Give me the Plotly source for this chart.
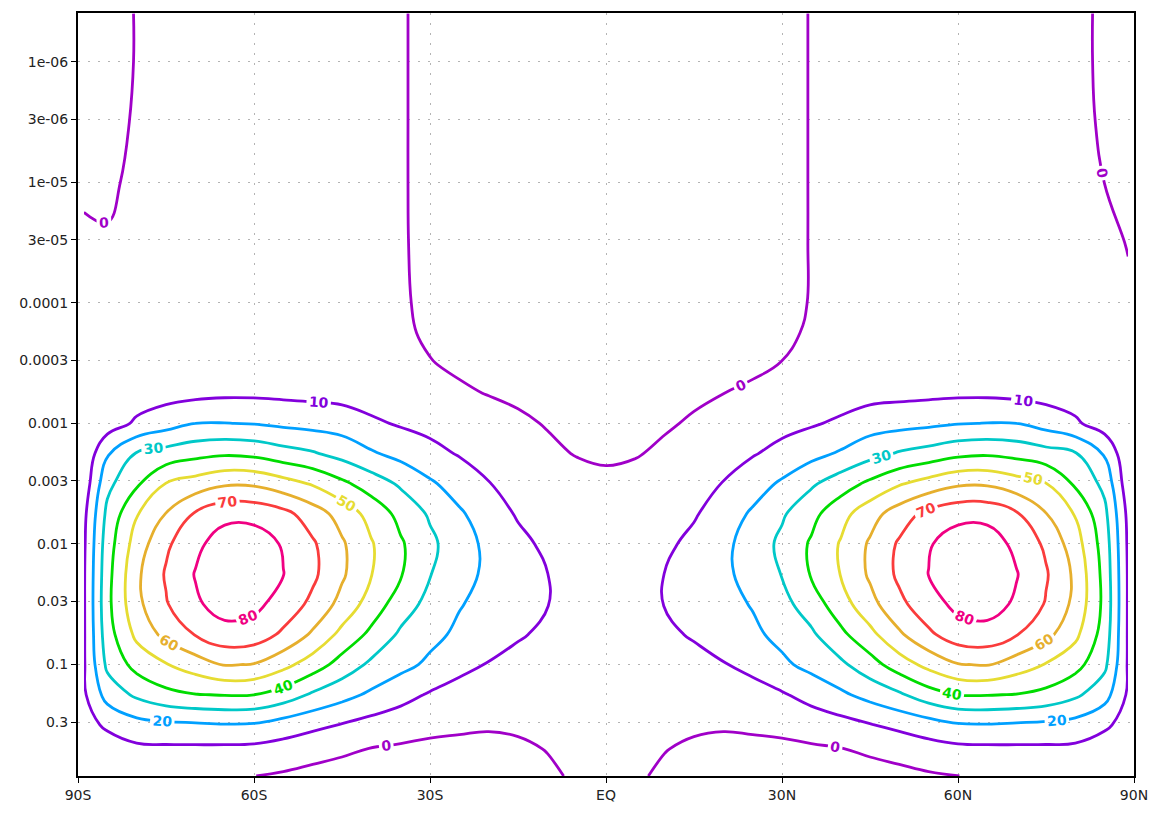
import plotly.graph_objects as go

# Grid columns: latitude in degrees (south negative)
lats = [-89, -85, -80, -75, -70, -65, -60, -55, -50, -45, -40, -35, -30, -25, -20, -15, -10, -5,
        0, 5, 10, 15, 20, 25, 30, 35, 40, 45, 50, 55, 60, 65, 70, 75, 80, 85, 89]

# Grid rows: pressure levels (top of the domain first)
pressure = [3.98e-7, 1.0e-6, 3.16e-6, 1.0e-5, 3.16e-5, 1.0e-4, 1.78e-4, 3.16e-4, 5.62e-4, 1.0e-3,
            1.78e-3, 3.16e-3, 5.62e-3, 1.0e-2, 1.78e-2, 3.16e-2, 5.62e-2, 0.1, 0.178, 0.316, 0.5, 0.839]

# Zonal-mean wind on each pressure row, from 89S to 89N
u_p00 = [-3, -2.5, 0.3, 2, 3, 3.5, 3.5, 3, 2.5, 2, 1.2, 0.5, -1.5, -2.5, -3, -3.5, -3.5, -3.5, -3.5,
         -3.5, -3.5, -3.5, -3, -2.5, -1.5, 0.2, 1.2, 2, 2.5, 3, 3.5, 3.5, 3, 2.2, 1.5, -1.05, -3]
u_p01 = [-3, -2.5, 0.3, 2, 3, 3.5, 3.5, 3, 2.5, 2, 1.2, 0.5, -1.5, -2.5, -3, -3.5, -3.5, -3.5, -3.5,
         -3.5, -3.5, -3.5, -3, -2.5, -1.5, 0.2, 1.2, 2, 2.5, 3, 3.5, 3.5, 3, 2.2, 1.5, -1.05, -3]
u_p02 = [-2, -1.5, 0.5, 2.2, 3.2, 3.6, 3.6, 3.3, 2.8, 2.2, 1.3, 0.5, -1.5, -2.6, -3.2, -3.7, -3.8, -3.8, -3.8,
         -3.8, -3.8, -3.7, -3.2, -2.6, -1.5, 0.2, 1.3, 2.2, 2.8, 3.3, 3.6, 3.6, 3.2, 2.4, 1.6, -0.75, -2.5]
u_p03 = [-1, -1.2, 1.5, 2.8, 3.5, 4, 4, 3.8, 3.3, 2.6, 1.6, 0.5, -1.5, -2.7, -3.4, -4, -4.1, -4.2, -4.2,
         -4.2, -4.1, -4, -3.4, -2.7, -1.5, 0.2, 1.6, 2.6, 3.3, 3.8, 4, 4, 3.5, 2.9, 2.5, -0.05, -1.5]
u_p04 = [1, 0.6, 2.5, 3.5, 4.2, 4.7, 4.7, 4.3, 3.8, 3, 1.9, 0.55, -1.5, -2.7, -3.5, -4, -4.2, -4.3, -4.3,
         -4.3, -4.2, -4, -3.5, -2.7, -1.5, 0.2, 1.9, 3, 3.8, 4.3, 4.7, 4.7, 4.2, 3.5, 3, 1.7, -0.3]
u_p05 = [1, 1.5, 3, 4.3, 5, 5.5, 5.5, 5, 4.5, 3.5, 2.3, 0.85, -1.5, -2.8, -3.8, -4.5, -4.8, -5, -5,
         -5, -4.8, -4.5, -3.8, -2.8, -1.5, 0.25, 2.3, 3.5, 4.5, 5, 5.5, 5.5, 5, 4.3, 3.5, 2, 1]
u_p06 = [1.1, 1.9, 3.5, 4.9, 5.7, 6.2, 6.2, 5.8, 5.2, 4.2, 2.9, 1.3, -1.1, -2.1, -3.1, -3.9, -4.3, -4.5, -4.5,
         -4.5, -4.3, -3.9, -3.1, -2.1, -1.1, 0.7, 2.9, 4.2, 5.2, 5.8, 6.2, 6.2, 5.7, 4.9, 3.7, 2.1, 1.1]
u_p07 = [1.2, 2.3, 4, 5.5, 6.5, 7, 7, 6.6, 6, 5, 3.6, 2, 0.3, -1.3, -2.4, -3.3, -3.8, -4, -4,
         -4, -3.8, -3.3, -2.4, -1.3, 0.1, 2, 3.6, 5, 6, 6.6, 7, 7, 6.5, 5.5, 4, 2.3, 1.2]
u_p08 = [1.5, 3, 5.2, 6.3, 7.3, 8.2, 8.2, 7.8, 7.3, 6.6, 5.5, 4, 2.6, 1.1, -0.3, -1.5, -2.4, -3, -3.2,
         -3, -2.4, -1.5, -0.05, 1.1, 2.6, 4, 5.5, 6.6, 7.3, 7.8, 8.2, 8.2, 7.3, 6.3, 5.2, 3, 1.5]
u_p09 = [2, 5, 11.5, 16, 20, 20.2, 19.6, 17.9, 16.7, 15.4, 11.6, 9, 7.1, 5.2, 3.3, 1.4, -0.5, -2, -2.5,
         -2, -1, 1, 3.3, 5.2, 7.1, 9, 11.6, 15.4, 16.7, 17.9, 19.6, 20.2, 20, 16, 11.5, 5, 2]
u_p10 = [2, 19, 30.8, 33.9, 36.9, 38.7, 37.5, 34, 31, 26.6, 21.2, 16.9, 12.9, 9.3, 6.7, 4.2, 1.6, -0.4, -1,
         -0.6, 1.6, 4.2, 6.7, 9.3, 12.9, 16.9, 21.2, 26.6, 31, 34, 37.5, 38.7, 36.9, 33.9, 30.8, 19, 2]
u_p11 = [4, 27.4, 38.5, 50.3, 54.4, 58.7, 58.5, 54, 49, 42.1, 35.3, 28.5, 21.4, 15.7, 10.3, 7, 5, 3, 1.5,
         3, 5, 7, 10.3, 15.7, 21.4, 28.5, 35.3, 42.1, 49, 54, 58.5, 58.7, 54.4, 50.3, 38.5, 27.4, 4]
u_p12 = [7.5, 32.5, 49.3, 60.3, 71, 77, 77, 73, 65, 56, 46.5, 37, 28.7, 21.3, 15, 9, 6.5, 5, 3.5,
         5, 6.5, 9, 15, 21.3, 28.7, 37, 46.5, 56, 65, 73, 77, 77, 71, 60.3, 49.3, 32.5, 7.5]
u_p13 = [8.5, 35.3, 54.6, 68.2, 77.6, 85, 85, 79.1, 71.3, 61.3, 50.8, 41.2, 32.2, 24.2, 17.7, 12.6, 8, 6, 4.5,
         6, 8, 12.6, 17.7, 24.2, 32.2, 41.2, 50.8, 61.3, 71.3, 79.1, 85, 85, 77.6, 68.2, 54.6, 35.3, 8.5]
u_p14 = [9, 36.6, 58, 71, 80.5, 86, 86, 80.2, 72, 61.5, 50.3, 40.8, 30.4, 23.5, 18, 14, 10.1, 7, 5.5,
         7, 10.1, 14, 18, 23.5, 30.4, 40.8, 50.3, 61.5, 72, 80.2, 86, 86, 80.5, 71, 58, 36.6, 9]
u_p15 = [9, 37.3, 57.4, 69.2, 78.5, 84, 82.5, 76, 67.6, 56.7, 45.6, 34.9, 26.9, 20.6, 16.9, 13.4, 10.2, 7, 5,
         7, 10.2, 13.4, 16.9, 20.6, 26.9, 34.9, 45.6, 56.7, 67.6, 76, 82.5, 84, 78.5, 69.2, 57.4, 37.3, 9]
u_p16 = [9, 35.7, 52.3, 63, 70.5, 76.5, 75.5, 68.2, 58.5, 47.2, 37.7, 28.4, 22.7, 18.1, 14.5, 10.8, 8.5, 6.5, 5,
         6.5, 8.5, 10.8, 14.5, 18.1, 22.7, 28.4, 37.7, 47.2, 58.5, 68.2, 75.5, 76.5, 70.5, 63, 52.3, 35.7, 9]
u_p17 = [9, 32.2, 43.5, 49.4, 55, 60.6, 59.5, 53, 45.1, 36, 28, 22.9, 18.1, 13.7, 9.4, 7.5, 6.5, 5.5, 5,
         5.5, 6.5, 7.5, 9.4, 13.7, 18.1, 22.9, 28, 36, 45.1, 53, 59.5, 60.6, 55, 49.4, 43.5, 32.2, 9]
u_p18 = [8.5, 23.9, 31.8, 37.2, 39.6, 40.4, 40, 35.6, 28.5, 23.3, 18.2, 13.4, 9, 4.8, 4.3, 4.5, 4.8, 4.8, 4.8,
         4.8, 4.8, 4.5, 4.3, 4.8, 9, 13.4, 18.2, 23.3, 28.5, 35.6, 40, 40.4, 39.6, 37.2, 31.8, 23.9, 8.5]
u_p19 = [7, 11.4, 16.4, 17.7, 18.6, 19.5, 19, 15.5, 12.5, 9.5, 6.4, 4.4, 2.8, 1.8, 1.1, 1.4, 2.5, 3.5, 4.2,
         3.5, 2.5, 1.4, 1.1, 1.8, 2.8, 4.4, 6.4, 9.5, 12.5, 15.5, 19, 19.5, 18.6, 17.7, 16.4, 11.4, 7]
u_p20 = [4, 6, 8, 8.3, 8.2, 8, 7.6, 6.1, 3.3, 1.5, -0.3, -1.2, -2.3, -2.6, -2.8, -1.45, 0.3, 2.5, 3.5,
         2.5, 0.3, -1.45, -2.8, -2.6, -2.3, -1.2, -0.3, 1.5, 3.3, 6.1, 7.6, 8, 8.2, 8.3, 8, 6, 4]
u_p21 = [2, 3, 4, 4, 3.5, 2, 0.1, -1.2, -2.5, -3.5, -4, -4.5, -5, -5.2, -5.2, -4.5, -1.5, 1.2, 2.5,
         1.2, -1.5, -4.5, -5.2, -5.2, -5, -4.5, -4, -3.5, -2.5, -1.2, -0.1, 2, 3.5, 4, 4, 3, 2]

zonal_wind = [u_p00, u_p01, u_p02, u_p03, u_p04, u_p05, u_p06, u_p07, u_p08, u_p09, u_p10,
              u_p11, u_p12, u_p13, u_p14, u_p15, u_p16, u_p17, u_p18, u_p19, u_p20, u_p21]

# Contour levels and their line colours
levels = [0, 10, 20, 30, 40, 50, 60, 70, 80]
level_colors = ["rgb(160,0,200)", "rgb(130,0,220)", "rgb(0,160,255)", "rgb(0,200,200)",
                "rgb(0,220,0)", "rgb(230,220,50)", "rgb(230,175,45)", "rgb(250,60,60)",
                "rgb(240,0,130)"]

# Axis ticks
lat_ticks = [-90, -60, -30, 0, 30, 60, 90]
lat_labels = ["90S", "60S", "30S", "EQ", "30N", "60N", "90N"]
p_ticks = [1e-6, 3e-6, 1e-5, 3e-5, 1e-4, 3e-4, 1e-3, 3e-3, 0.01, 0.03, 0.1, 0.3]
p_labels = ["1e-06", "3e-06", "1e-05", "3e-05", "0.0001", "0.0003", "0.001", "0.003",
            "0.01", "0.03", "0.1", "0.3"]

n = len(levels) - 1
colorscale = [[i / n, c] for i, c in enumerate(level_colors)]

fig = go.Figure(
    go.Contour(
        x=lats,
        y=pressure,
        z=zonal_wind,
        autocontour=False,
        contours=dict(
            start=levels[0], end=levels[-1], size=levels[1] - levels[0],
            coloring="lines", showlabels=True,
            labelfont=dict(family="DejaVu Sans", size=14, weight="bold"),
        ),
        line=dict(width=2.8, smoothing=1.2),
        colorscale=colorscale,
        showscale=False,
        hoverinfo="skip",
    )
)

axis_font = dict(family="DejaVu Sans", size=14, color="#222222")
grid_style = dict(showgrid=True, gridcolor="#b4b4b4", gridwidth=1, griddash="2px,8px")

fig.update_layout(
    width=1161, height=814,
    margin=dict(l=78, r=27, t=11, b=33),
    paper_bgcolor="white", plot_bgcolor="white",
    showlegend=False,
    xaxis=dict(
        range=[-90, 90], tickmode="array", tickvals=lat_ticks, ticktext=lat_labels,
        zeroline=False, showline=True, linecolor="black", linewidth=2, mirror=True,
        ticks="outside", ticklen=5, tickcolor="black", tickfont=axis_font, **grid_style,
    ),
    yaxis=dict(
        type="log", range=[-0.076, -6.403], tickmode="array", tickvals=p_ticks, ticktext=p_labels,
        zeroline=False, showline=True, linecolor="black", linewidth=2, mirror=True,
        ticks="outside", ticklen=5, tickcolor="black", tickfont=axis_font, **grid_style,
    ),
)

fig.write_html("out.html")
